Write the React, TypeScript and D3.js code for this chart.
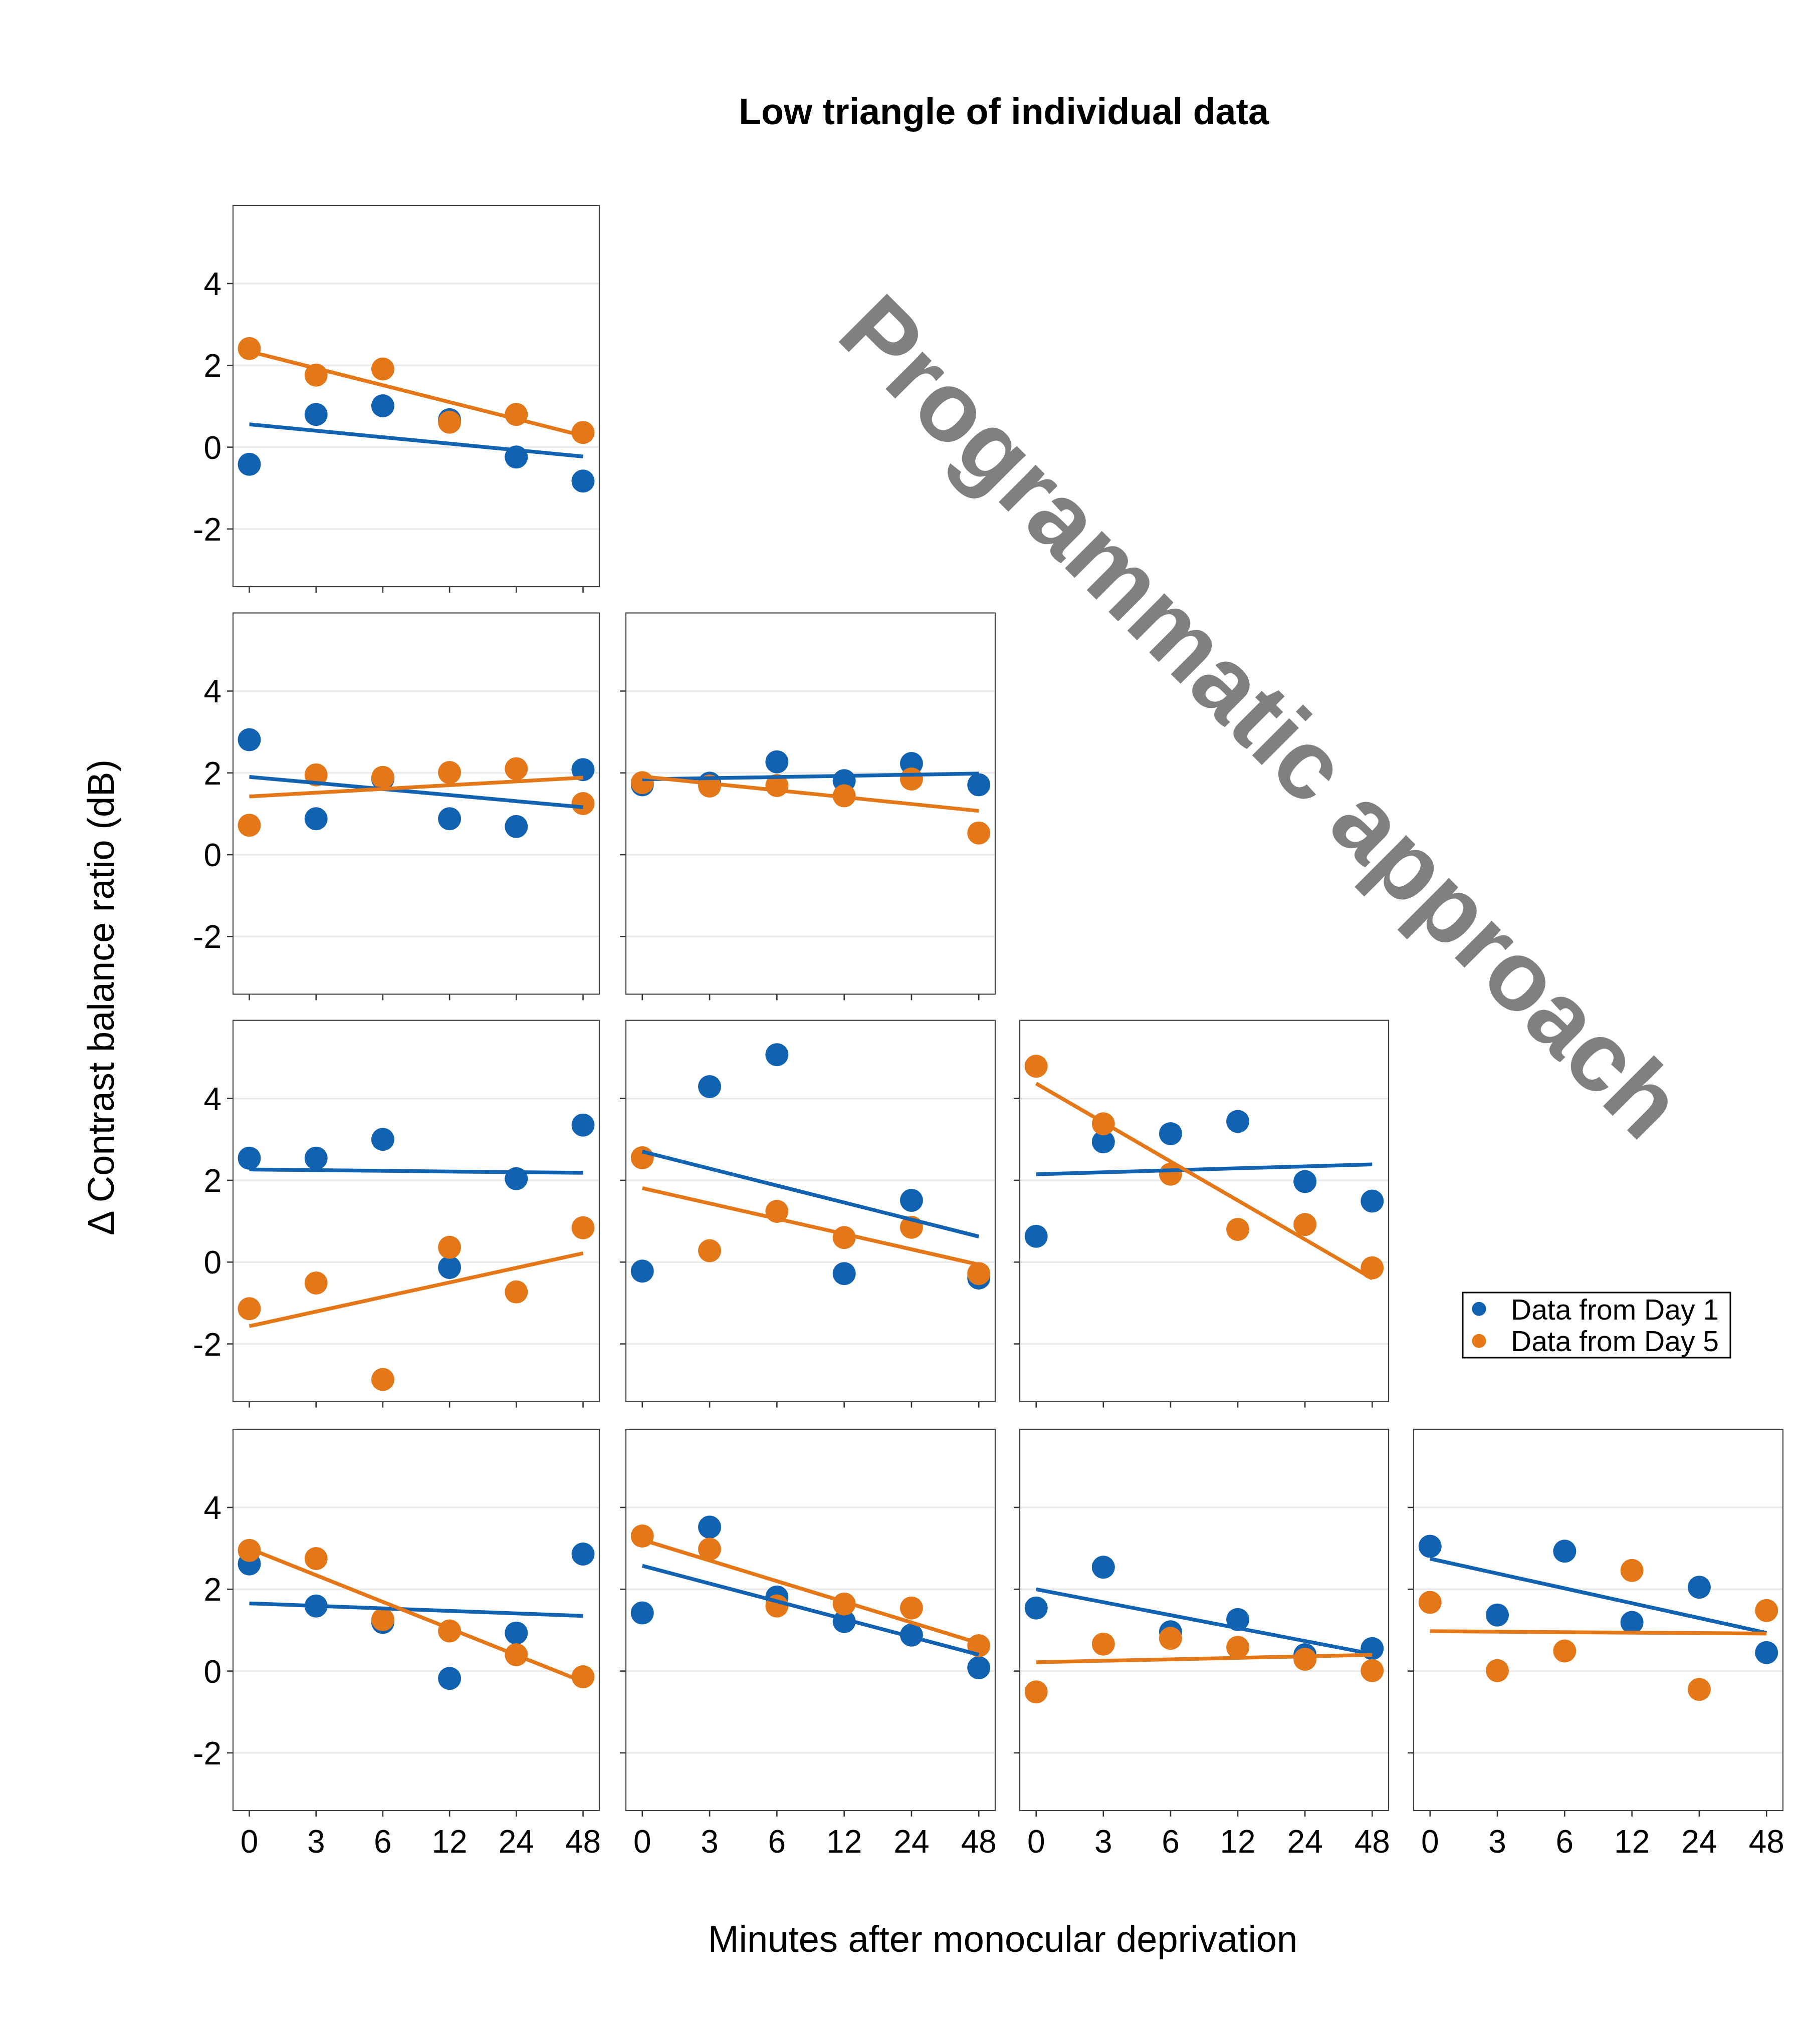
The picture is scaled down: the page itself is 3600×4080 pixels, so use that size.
import React from "react";
import * as d3 from "d3";

// ---------- data ----------
const timeLabels = ["0", "3", "6", "12", "24", "48"];
const yTickValues = [-2, 0, 2, 4];
const seriesNames = ["Data from Day 1", "Data from Day 5"];
const seriesColors = ["#1262B2", "#E47819"];

// lower-triangle panel positions (row, col)
const panelRows = [0, 1, 1, 2, 2, 2, 3, 3, 3, 3];
const panelCols = [0, 0, 1, 0, 1, 2, 0, 1, 2, 3];

const day1Values = [
  [-0.42, 0.8, 1.01, 0.67, -0.24, -0.83],
  [2.81, 0.88, 1.85, 0.88, 0.69, 2.08],
  [1.71, 1.75, 2.27, 1.81, 2.23, 1.71],
  [2.54, 2.54, 3.0, -0.13, 2.04, 3.35],
  [-0.22, 4.29, 5.07, -0.28, 1.51, -0.39],
  [0.63, 2.94, 3.14, 3.44, 1.97, 1.49],
  [2.62, 1.59, 1.19, -0.18, 0.93, 2.86],
  [1.42, 3.52, 1.81, 1.21, 0.88, 0.08],
  [1.54, 2.54, 0.96, 1.26, 0.4, 0.55],
  [3.05, 1.37, 2.93, 1.19, 2.05, 0.45],
];

const day5Values = [
  [2.41, 1.76, 1.91, 0.61, 0.8, 0.36],
  [0.72, 1.95, 1.89, 2.01, 2.1, 1.25],
  [1.76, 1.68, 1.69, 1.44, 1.85, 0.53],
  [-1.14, -0.51, -2.87, 0.36, -0.73, 0.84],
  [2.55, 0.28, 1.24, 0.6, 0.85, -0.28],
  [4.79, 3.38, 2.15, 0.8, 0.92, -0.14],
  [2.95, 2.75, 1.26, 0.98, 0.4, -0.14],
  [3.3, 2.98, 1.59, 1.64, 1.54, 0.62],
  [-0.51, 0.66, 0.8, 0.58, 0.29, 0.01],
  [1.68, 0.01, 0.49, 2.46, -0.45, 1.48],
];

const yDomain = [-3.41, 5.91];

// ---------- layout ----------
const W = 3600;
const H = 4080;
const colLefts = [465, 1249, 2035, 2821];
const colWidths = [731, 737, 736, 737];
const rowTops = [410, 1223.5, 2036.7, 2853];
const panelH = 761;
const FONT = "'Liberation Sans', Arial, Helvetica, sans-serif";

function fit(vals: number[]) {
  const xs = vals.map((_, i) => i);
  const mx = d3.mean(xs) as number;
  const my = d3.mean(vals) as number;
  let num = 0;
  let den = 0;
  xs.forEach((x, i) => {
    num += (x - mx) * (vals[i] - my);
    den += (x - mx) * (x - mx);
  });
  const slope = num / den;
  const icpt = my - slope * mx;
  return xs.map((x) => icpt + slope * x);
}

function Panel({ idx }: { idx: number }) {
  const r = panelRows[idx];
  const c = panelCols[idx];
  const left = colLefts[c];
  const top = rowTops[r];
  const w = colWidths[c];
  const x = d3
    .scalePoint<string>()
    .domain(timeLabels)
    .range([left, left + w])
    .padding(0.244);
  const y = d3.scaleLinear().domain(yDomain).range([top + panelH, top]);
  const line = d3
    .line<number>()
    .x((_, i) => x(timeLabels[i]) as number)
    .y((v) => y(v));
  const series = [day1Values[idx], day5Values[idx]];
  const bottom = top + panelH;
  return (
    <g>
      {yTickValues.map((t) => (
        <line
          key={"g" + t}
          x1={left}
          x2={left + w}
          y1={y(t)}
          y2={y(t)}
          stroke="#EBEBEB"
          strokeWidth={3.5}
        />
      ))}
      {yTickValues.map((t) => (
        <line
          key={"yt" + t}
          x1={left - 12}
          x2={left}
          y1={y(t)}
          y2={y(t)}
          stroke="#333"
          strokeWidth={2.6}
        />
      ))}
      {timeLabels.map((t) => (
        <line
          key={"xt" + t}
          x1={x(t)}
          x2={x(t)}
          y1={bottom}
          y2={bottom + 12}
          stroke="#333"
          strokeWidth={2.6}
        />
      ))}
      {c === 0 &&
        yTickValues.map((t) => (
          <text
            key={"yl" + t}
            x={left - 23}
            y={y(t)}
            dy="0.36em"
            textAnchor="end"
            fontFamily={FONT}
            fontSize={64}
            fill="#000"
          >
            {t < 0 ? "-" + Math.abs(t) : String(t)}
          </text>
        ))}
      {r === 3 &&
        timeLabels.map((t) => (
          <text
            key={"xl" + t}
            x={x(t)}
            y={bottom + 84}
            textAnchor="middle"
            fontFamily={FONT}
            fontSize={64}
            fill="#000"
          >
            {t}
          </text>
        ))}
      {series.map((vals, s) =>
        vals.map((v, i) => (
          <circle
            key={"p" + s + "-" + i}
            cx={x(timeLabels[i])}
            cy={y(v)}
            r={23}
            fill={seriesColors[s]}
          />
        ))
      )}
      {series.map((vals, s) => (
        <path
          key={"l" + s}
          d={line(fit(vals)) || ""}
          fill="none"
          stroke={seriesColors[s]}
          strokeWidth={7.5}
        />
      ))}
      <rect
        x={left}
        y={top}
        width={w}
        height={panelH}
        fill="none"
        stroke="#444"
        strokeWidth={2.2}
      />
    </g>
  );
}

export default function App() {
  const legendX = 2919;
  const legendY = 2580;
  return (
    <svg
      width={W}
      height={H}
      viewBox={`0 0 ${W} ${H}`}
      style={{ position: "absolute", left: 0, top: 0, background: "#fff" }}
    >
      <rect x={0} y={0} width={W} height={H} fill="#fff" />
      <text
        x={2003}
        y={248}
        textAnchor="middle"
        fontFamily={FONT}
        fontSize={73.5}
        fontWeight="bold"
        fill="#000"
      >
        Low triangle of individual data
      </text>
      {panelRows.map((_, i) => (
        <Panel key={i} idx={i} />
      ))}
      <text
        transform="translate(2469.5,1478.5) rotate(45)"
        textAnchor="middle"
        fontFamily={FONT}
        fontSize={198}
        fontWeight="bold"
        fill="#808080"
      >
        Programmatic approach
      </text>
      <text
        transform="translate(227,1991) rotate(-90)"
        textAnchor="middle"
        fontFamily={FONT}
        fontSize={74}
        fill="#000"
      >
        Δ Contrast balance ratio (dB)
      </text>
      <text
        x={2001}
        y={3896}
        textAnchor="middle"
        fontFamily={FONT}
        fontSize={74}
        fill="#000"
      >
        Minutes after monocular deprivation
      </text>
      <g>
        <rect
          x={legendX}
          y={legendY}
          width={534}
          height={130}
          fill="#fff"
          stroke="#000"
          strokeWidth={3}
        />
        {seriesNames.map((name, s) => (
          <g key={name}>
            <circle
              cx={legendX + 32.5}
              cy={legendY + 32.7 + s * 64}
              r={14}
              fill={seriesColors[s]}
            />
            <text
              x={legendX + 96}
              y={legendY + 54 + s * 63}
              fontFamily={FONT}
              fontSize={57}
              fill="#000"
            >
              {name}
            </text>
          </g>
        ))}
      </g>
    </svg>
  );
}
